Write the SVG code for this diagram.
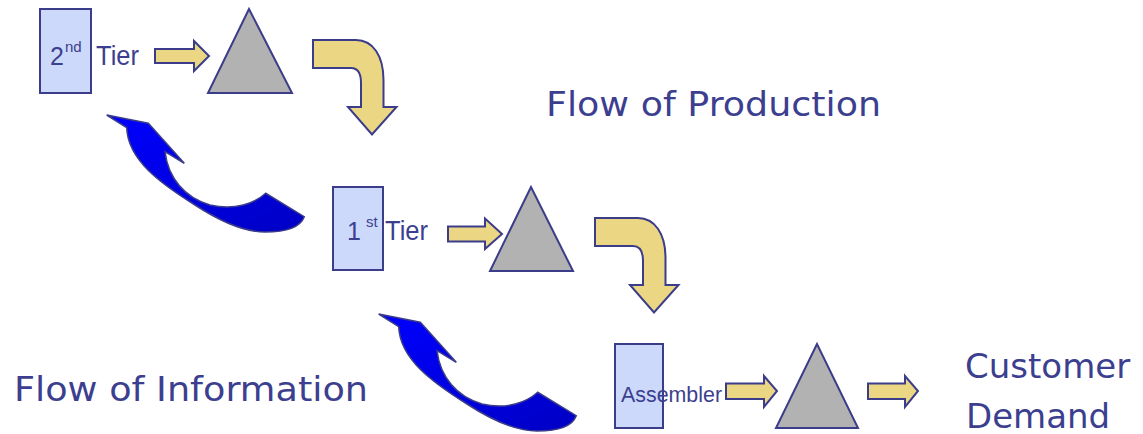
<svg xmlns="http://www.w3.org/2000/svg" width="1143" height="434" viewBox="0 0 1143 434">
<style>
.box{fill:#ccd9fa;stroke:#3b3d8a;stroke-width:2}
.tri{fill:#b2b2b2;stroke:#3b3d8a;stroke-width:2;stroke-linejoin:miter}
.ya{fill:#ead683;stroke:#3b3d8a;stroke-width:2;stroke-linejoin:miter}
.ba{fill:url(#bg);stroke:#3b3d8a;stroke-width:1.5;stroke-linejoin:miter}
.t{fill:#3c3f8f;font-family:"Liberation Sans",Arial,sans-serif}
.big{fill:#3c3f8f;font-family:"DejaVu Sans",Verdana,sans-serif;font-size:34px}
</style>
<defs>
<linearGradient id="bg" x1="0" y1="0" x2="1" y2="1">
<stop offset="0" stop-color="#0000ff"/>
<stop offset="1" stop-color="#0000c4"/>
</linearGradient>
<path id="curve" d="M0,0 L43,0 C60,0 70.5,16 70.5,40 L70.5,67 L83.5,67 L59,94.5 L35,67 L48,67 L48,43 C48,33 45,28 38,28 L0,28 Z"/>
<path id="blue" d="M106.7,115 L148.3,123.3 L184.3,163.3 L165,151.7 C168,178 185,198 210,205 C235,211 255,203 265.7,193.3 L304.3,216.7 C300,228 285,232 265,232 C240,232 215,218 195,205 C160,183 128,160 126.7,127.7 Z"/>
</defs>

<g id="tier2">
<rect class="box" x="40" y="9" width="51" height="84"/>
<text class="t" x="50" y="65" font-size="25">2</text>
<text class="t" x="65" y="52" font-size="15">nd</text>
<text class="t" x="96" y="65" font-size="27" textLength="43" lengthAdjust="spacingAndGlyphs">Tier</text>
</g>
<g id="tri1"><polygon class="tri" points="249,9 208,93 292,93"/></g>

<g id="tier1">
<rect class="box" x="333" y="187" width="50" height="83"/>
<text class="t" x="347" y="240" font-size="25">1</text>
<text class="t" x="366" y="227" font-size="15">st</text>
<text class="t" x="385" y="240" font-size="27" textLength="43" lengthAdjust="spacingAndGlyphs">Tier</text>
</g>
<g id="tri2"><polygon class="tri" points="531,187 490,271 573,271"/></g>

<g id="assembler">
<rect class="box" x="615" y="344" width="48" height="84"/>
<text class="t" x="621" y="401.5" font-size="22" textLength="101" lengthAdjust="spacingAndGlyphs">Assembler</text>
</g>
<g id="tri3"><polygon class="tri" points="817,344 776,428 858,428"/></g>

<g id="customer">
<text class="big" x="965" y="378">Customer</text>
<text class="big" x="966" y="428">Demand</text>
</g>

<g id="labels">
<text class="big" x="546" y="116" font-size="35" textLength="335" lengthAdjust="spacingAndGlyphs">Flow of Production</text>
<text class="big" x="14" y="401" font-size="35" textLength="354" lengthAdjust="spacingAndGlyphs">Flow of Information</text>
</g>

<g id="connectors">
<polygon class="ya" points="155,49 194,49 194,41 209,56 194,71 194,63 155,63"/>
<polygon class="ya" points="448,226.5 485,226.5 485,218.5 502,234 485,249 485,241.5 448,241.5"/>
<polygon class="ya" points="726,383.5 764,383.5 764,376 777,391 764,407 764,399 726,399"/>
<polygon class="ya" points="868,383.5 905,383.5 905,376 918,391 905,407 905,399 868,399"/>
<use href="#curve" class="ya" transform="translate(313,40)"/>
<use href="#curve" class="ya" transform="translate(595,218)"/>
<use href="#blue" class="ba"/>
<use href="#blue" class="ba" transform="translate(272,199)"/>
</g>
</svg>
